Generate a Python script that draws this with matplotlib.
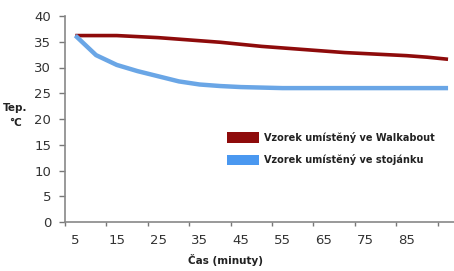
import matplotlib
matplotlib.use("Agg")
import matplotlib.pyplot as plt
from matplotlib.patches import Patch

minutes = [5, 10, 15, 20, 25, 30, 35, 40, 45, 50, 55, 60, 65, 70, 75, 80, 85, 90, 95]
walkabout = [36.2, 36.2, 36.2, 36.0, 35.8, 35.5, 35.2, 34.9, 34.5, 34.1, 33.8, 33.5,
             33.2, 32.9, 32.7, 32.5, 32.3, 32.0, 31.6]
stojanek = [36.2, 32.4, 30.5, 29.3, 28.3, 27.3, 26.7, 26.4, 26.2, 26.1, 26.0, 26.0,
            26.0, 26.0, 26.0, 26.0, 26.0, 26.0, 26.0]
xtick_labels = [5, 15, 25, 35, 45, 55, 65, 75, 85]
yticks = [0, 5, 10, 15, 20, 25, 30, 35, 40]
series_labels = ["Vzorek umístěný ve Walkabout", "Vzorek umístěný ve stojánku"]
red = "#8E0B0B"
blue_line = "#6AA6E6"
blue_patch = "#4A98F0"

W, H = 454, 271
fig = plt.figure(figsize=(W / 100, H / 100), dpi=100)
left, right, bottom, top = 65, 458.4, 222, 16
ax = fig.add_axes([left / W, 1 - bottom / H, (right - left) / W, (bottom - top) / H])

ax.plot(minutes, walkabout, color=red, lw=2.6, solid_capstyle="butt")
ax.plot(minutes, stojanek, color=blue_line, lw=3.2, solid_capstyle="butt")

ax.set_xlim(2.5, 97.5)
ax.set_ylim(0, 40)
ax.set_yticks(yticks)
ax.set_yticklabels([str(v) for v in yticks], fontsize=9.5, color="#333333")
ax.set_xticks([m + 7.5 - 10 for m in [5, 15, 25, 35, 45, 55, 65, 75, 85, 95]])
ax.set_xticklabels([])
ax.set_xticks(xtick_labels, minor=True)
ax.set_xticklabels([str(v) for v in xtick_labels], minor=True, fontsize=9.5, color="#333333")
ax.tick_params(axis="x", which="minor", length=0, pad=9)
ax.tick_params(axis="x", which="major", length=3, width=1, color="#777777", direction="out")
ax.tick_params(axis="y", length=4, width=1, color="#777777", pad=6)

for s in ["top", "right"]:
    ax.spines[s].set_visible(False)
for s in ["left", "bottom"]:
    ax.spines[s].set_color("#888888")
    ax.spines[s].set_linewidth(1.2)

fig.text(226 / W, 1 - 260 / H, "Čas (minuty)", ha="center", va="center",
         fontsize=7.5, fontweight="bold", color="#222222")
fig.text(15 / W, 1 - 108 / H, "Tep.", ha="center", va="center",
         fontsize=7.5, fontweight="bold", color="#222222")
fig.text(15 / W, 1 - 123 / H, "°C", ha="center", va="center",
         fontsize=7.5, fontweight="bold", color="#222222")

handles = [Patch(facecolor=red, edgecolor="none"), Patch(facecolor=blue_patch, edgecolor="none")]
fig.legend(handles, series_labels, loc="upper left", bbox_to_anchor=(227 / W, 1 - 132 / H),
           bbox_transform=fig.transFigure, frameon=False, borderpad=0, borderaxespad=0,
           handlelength=3.3, handleheight=1.3, handletextpad=0.5, labelspacing=1.15,
           prop={"size": 7, "weight": "bold"}, labelcolor="#222222")

fig.savefig("out.png", dpi=100)
